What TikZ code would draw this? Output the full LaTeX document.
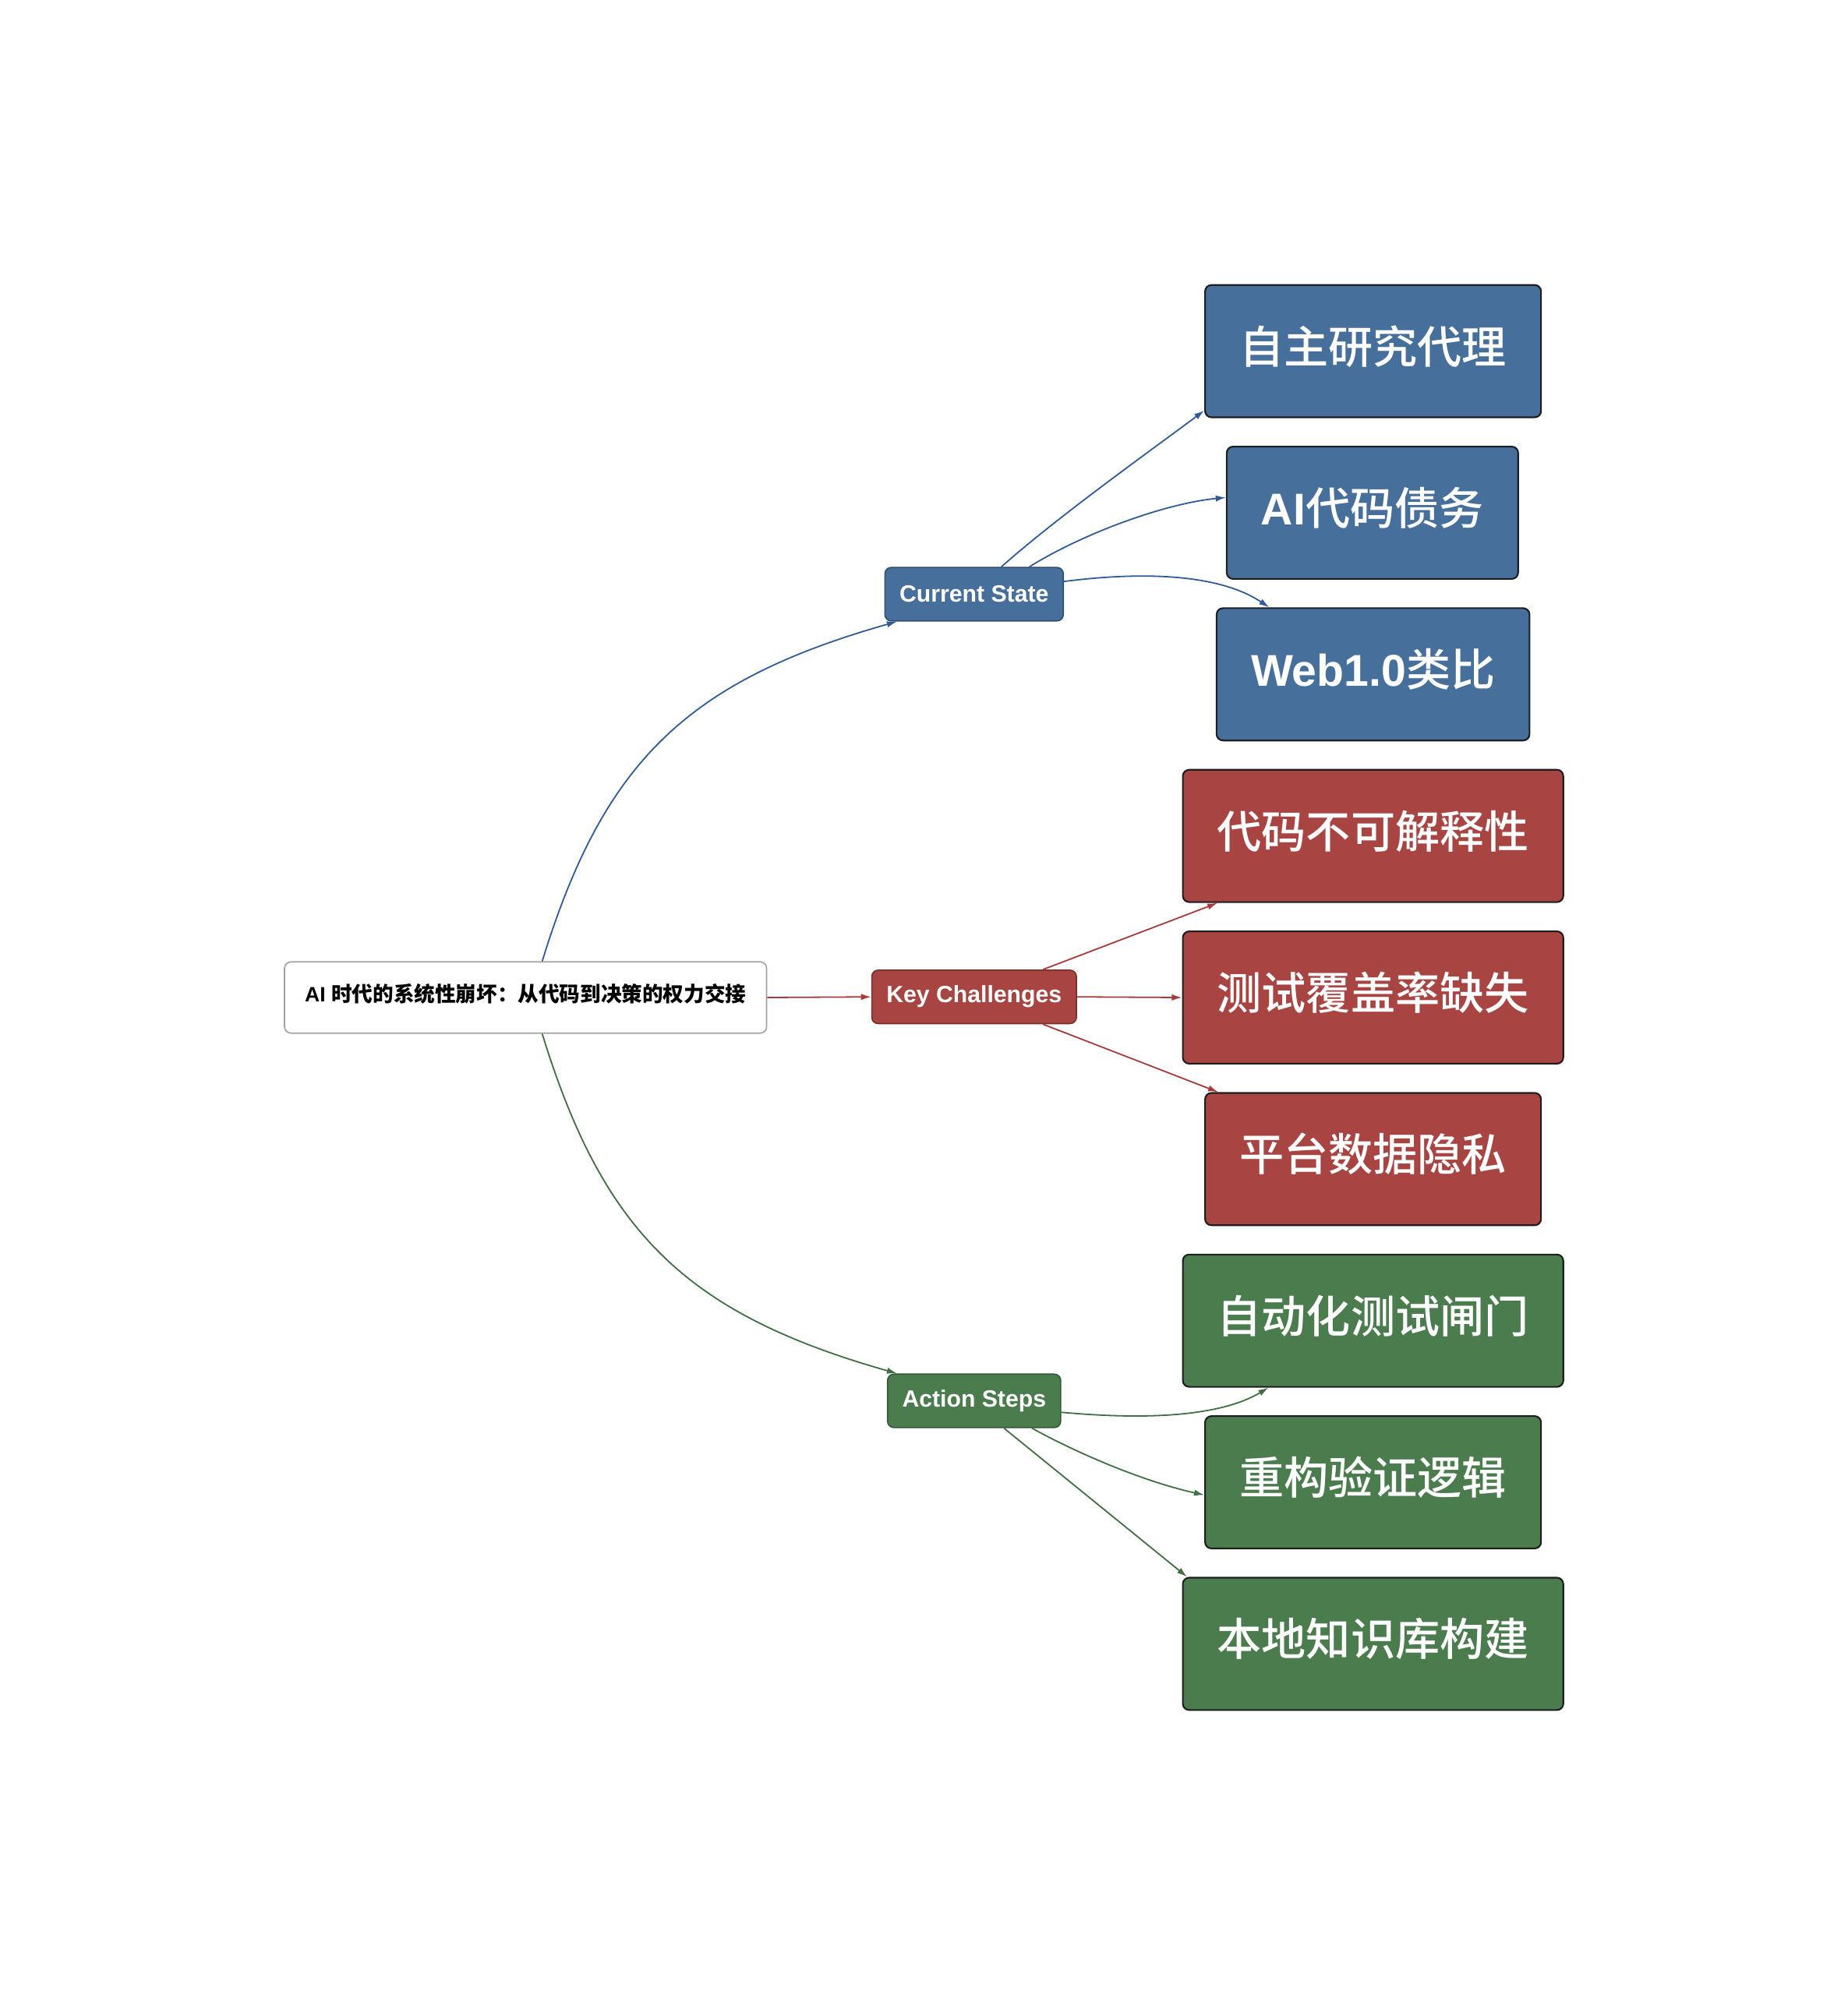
\documentclass[tikz,border=0pt]{standalone}
\usepackage{fontspec}
\setmainfont{Liberation Sans}
\newfontfamily\cjk{Noto Sans CJK SC}[BoldFont={Noto Sans CJK SC Medium}]
\newfontfamily\cjkheavy{Noto Sans CJK SC}
\usetikzlibrary{arrows.meta,calc}
\definecolor{bluefill}{HTML}{46709B}
\definecolor{redfill}{HTML}{A84442}
\definecolor{greenfill}{HTML}{4A7C4E}
\definecolor{blueline}{HTML}{2F5C99}
\definecolor{redline}{HTML}{A83A3A}
\definecolor{greenline}{HTML}{3F6F42}
\definecolor{rootborder}{HTML}{A0A0A0}
\definecolor{leafborder}{HTML}{1E1E1E}
\newcommand\zhtxt[1]{{\cjk #1}}
\newcommand\zhbold[1]{{\cjkheavy #1}}
\tikzset{
  rootbox/.style={draw=rootborder, line width=1pt, fill=white, rounded corners=5pt,
    minimum width=378pt, minimum height=56pt, inner xsep=16pt, text=black,
    text height=14.5pt, text depth=8pt,
    font=\fontsize{16.3}{20}\selectfont\bfseries},
  branchbox/.style={fill=#1fill, draw=#1fill!70!black, line width=1pt, rounded corners=5pt,
    minimum height=42pt, inner xsep=11.5pt, text=white,
    font=\fontsize{18.5}{22}\selectfont\bfseries},
  leafbox/.style={fill=#1fill, draw=leafborder, line width=1.3pt, rounded corners=5pt,
    minimum height=104pt, inner xsep=27pt, text=white,
    text height=31pt, text depth=12pt,
    font=\fontsize{35}{40}\selectfont\bfseries},
  conn/.style={draw=#1line, line width=1.1pt, -{Latex[length=8pt,width=5pt]}},
}
\begin{document}
\begin{tikzpicture}[x=1pt,y=-1pt]
\useasboundingbox (0,0) rectangle (1452,1568);
\fill[white] (0,0) rectangle (1452,1568);

% root and branches
\node[rootbox] (root) at (413,784) {AI \zhbold{时代的系统性崩坏：从代码到决策的权力交接}};
\node[branchbox=blue] (cs) at (765.5,467) {Current State};
\node[branchbox=red] (kc) at (765.5,783.5) {Key Challenges};
\node[branchbox=green] (as) at (765.5,1101) {Action Steps};

% leaves
\node[leafbox=blue] (l1) at (1079,276) {\zhtxt{自主研究代理}};
\node[leafbox=blue] (l2) at (1078.5,403) {AI\zhtxt{代码债务}};
\node[leafbox=blue] (l3) at (1079,530) {Web1.0\zhtxt{类比}};
\node[leafbox=red] (r1) at (1079,657) {\zhtxt{代码不可解释性}};
\node[leafbox=red] (r2) at (1079,784) {\zhtxt{测试覆盖率缺失}};
\node[leafbox=red] (r3) at (1079,911) {\zhtxt{平台数据隐私}};
\node[leafbox=green] (g1) at (1079,1038) {\zhtxt{自动化测试闸门}};
\node[leafbox=green] (g2) at (1079,1165) {\zhtxt{重构验证逻辑}};
\node[leafbox=green] (g3) at (1079,1292) {\zhtxt{本地知识库构建}};

% root connectors
\draw[conn=blue] ($(root.north west)+(203,0)$) .. controls +(48,-156) and +(-166,47) .. ($(cs.south west)+(10,0)$);
\draw[conn=red] (root.east) -- (kc.west);
\draw[conn=green] ($(root.south west)+(203,0)$) .. controls +(48,156) and +(-166,-47) .. ($(as.north west)+(8,0)$);

% current state connectors
\draw[conn=blue] ($(cs.north west)+(92,0)$) .. controls +(45,-40) and +(-40,30) .. ($(l1.south west)+(0,-6)$);
\draw[conn=blue] ($(cs.north west)+(114,0)$) .. controls +(40,-25) and +(-50,5) .. ($(l2.west)+(0,-12)$);
\draw[conn=blue] ($(cs.east)+(0,-10)$) .. controls +(55,-7) and +(-42,-28) .. ($(l3.north west)+(42,0)$);

% key challenges connectors
\draw[conn=red] ($(kc.north west)+(135,0)$) -- ($(r1.south west)+(28,0)$);
\draw[conn=red] (kc.east) -- (r2.west);
\draw[conn=red] ($(kc.south west)+(135,0)$) -- ($(r3.north west)+(11,0)$);

% action steps connectors
\draw[conn=green] ($(as.east)+(0,9)$) .. controls +(55,5) and +(-42,25) .. ($(g1.south west)+(68,0)$);
\draw[conn=green] ($(as.south west)+(114,0)$) .. controls +(40,22) and +(-45,-10) .. ($(g2.west)+(0,10)$);
\draw[conn=green] ($(as.south west)+(92,0)$) -- ($(g3.north west)+(4,0)$);
\end{tikzpicture}
\end{document}
